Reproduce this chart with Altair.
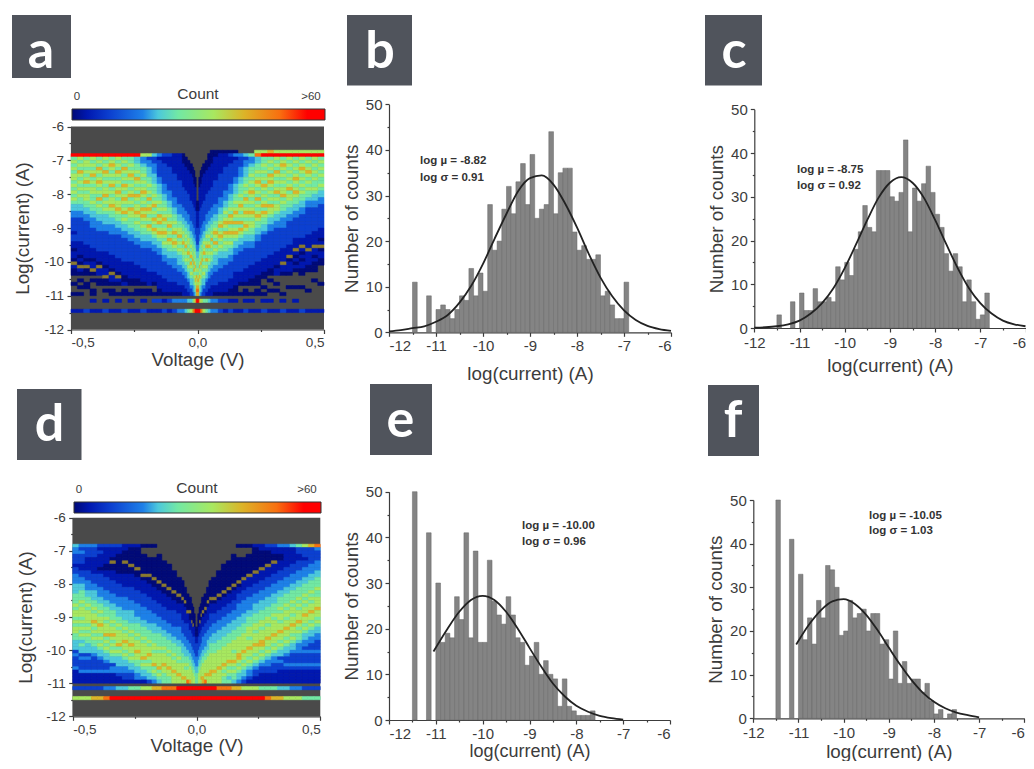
import altair as alt
import pandas as pd

W, H = 1018, 753
FONT = "Liberation Sans"
INK = "#3c3c3c"

LEVELS = list("0123456789a")
LEVEL_COLORS = ["#000a78", "#0018b0", "#0c40d0", "#1e80e8", "#4cc8dc",
                "#72e8a4", "#a8e860", "#dcb428", "#f87010", "#ff0000"]
SPECK_COLOR = "#8a7a30"
BAR_STOPS = [0, 0.06, 0.15, 0.28, 0.34, 0.42, 0.56, 0.68, 0.82, 0.93]
GREY = "#4a4a4a"

# half-column outer/inner edges of the maps, listed from |V|=0.5 to 0
V_EDGES = [0.5, 0.475, 0.45, 0.425, 0.4, 0.375, 0.35, 0.325, 0.3, 0.275, 0.25, 0.225,
           0.2, 0.18, 0.16, 0.14, 0.12, 0.1, 0.08, 0.06, 0.05, 0.04, 0.03, 0.02,
           0.015, 0.01, 0.005, 0.0]
ROW_TOP = -6.7
ROW_STEP = 0.1

A_LEFT = [
".9 5656566565 6565443322 2212211011 0a100..0.. 0 ....1",
".9 6565765656 5655443322 2222211110 10a10.0.0. 0 ....1",
".9 5665656756 5665544332 2222221111 01a00..00. . ....2",
".9 6565675656 6556554433 3222222111 011a0.0..0 0 .1..1",
".9 5657656765 6575655443 3322222211 10a11.00.. . ....1",
".9 6565765656 6756565444 3322222211 11011a00.0 . .1..2",
".9 5676565675 6566765544 3332222221 1110a110.0 0 ....1",
".9 6565765656 7656676554 4332222222 11110a10.. 0 .1..1",
".9 5657656576 5676567565 4433222222 21111001.0 0 ....2",
".9 5565676565 6756576655 5443322222 21111100.. 0 .1..1",
".9 4455657656 5765667656 5544332222 22111100.0 0 ....1",
".6 3345565656 7656576765 6554433222 22211110.0 0 .1..2",
".6 2334445565 6575676565 7654433222 22221111.0 0 ....1",
".4 2233344455 5656756576 5765443322 22221110.. 0 .2..1",
".3 1222223344 4556565767 5676544332 2222211110 0 .2..1",
".2 1122222233 3445565676 5676565443 3222221111 0 .1..2",
".2 1112222222 3334455656 7565765544 3322222111 0 .2..1",
".1 1111122222 2233344556 5675676544 3332222111 0 .3..2",
".1 1111111222 2222333445 5667565654 4433222211 0 .3..3",
".0 0011111112 2222233344 5565675665 5443322211 1 .3..3",
".. 0001111111 2222223334 4556567565 6544332221 1 .3..4",
".. .000111111 1222222333 4455665675 6565443222 1 .4..5",
".. ..00011111 1112222223 3344556567 5765654432 2 .4..6",
".. ...0001111 1111222222 3334455656 7565654433 2 .5..7",
".. ....000011 1111122222 2333445565 6757565544 3 .6..8",
".. ......0001 1111112222 2223344556 5676567655 4 .7..9",
".. .......... ...0001111 1222223344 5556576678 7 .9..9",
]
A_RIGHT = [
"69 5656565565 4433222222 211101a011 00.....0.. . ....1",
"69 6565656556 5443322222 221111a110 1000..0... . ....1",
"69 5656765656 5543322222 2221111a11 1100.....0 . ....1",
"69 6567656565 6554433222 222211a101 01100...0. . ....2",
"69 5656567656 7655443322 2222111a10 1010....0. . .1..1",
"69 6565656567 5665544332 222222111a 01110...0. . ....1",
"69 5676565656 6756554433 3222222111 1a110..... 0 .1..2",
"69 6565765656 7565665443 3222222211 11011..0.0 . ....1",
"79 5656576765 6565766544 3322222221 11100.0..0 . .1..1",
"69 5565656576 5656757655 4432222222 111100..0. 0 .1..2",
"68 4455656765 6575656765 5443322222 21111000.0 0 ....1",
".5 3345565656 7656567656 6554433222 22111100.. 0 .1..1",
".4 2334445565 6576567656 7654433222 22211110.0 0 .1..2",
".3 2223334455 5656765657 5765443322 22221110.. 0 ....1",
"03 1222223344 4556567657 5676544332 2222111100 0 .1..1",
"02 1122222233 3445565767 5676565443 3222221110 0 .1..2",
"01 1112222222 3334456567 6576565544 3322222111 0 .2..1",
"01 1111122222 2233344556 7567656544 3332222111 0 .2..2",
"00 1111111222 2222333445 5676575654 4433222211 0 .3..3",
"00 0011111112 2222233344 5565756565 5443322211 1 .3..3",
".0 0001111111 2222223334 4556567565 6544332221 1 .4..4",
".. .000111111 1222222333 4456567565 7565443222 1 .5..5",
".. ..00011111 1112222223 3344565675 6565654432 2 .5..6",
".. ...0001111 1111222222 3334456566 7565654433 2 .6..7",
".. ....000011 1111122222 2333445565 6756565544 3 .6..8",
".. ......0001 1111112222 2223344556 5675676655 4 .7..9",
".. .......... ...0001111 1222223344 5556567678 7 .9..9",
]
D_LEFT = [
".4 3322212233 3444555656 6565665544 4232223111 1 .2..6",
".3 2322211223 3445556566 6565656545 4423222311 1 .2..6",
".3 2221111222 3334455656 6665656554 4423222311 1 .2..6",
".3 2221111122 2334445565 6676565655 4432222311 1 .2..7",
".2 1211110122 2233344556 5667665656 5443222311 1 .2..7",
".2 1111100112 2223334455 5656667565 6544322311 1 .3..8",
".2 1110a00111 2222333445 5565667656 5654423311 1 .3..9",
".2 1100000011 1222233344 4556566667 5654443321 1 .4..9",
".1 1000a00011 1122233334 4455656676 6565443322 1 .4..9",
".1 00000a0011 1122223334 4445565667 6656544322 1 .5..9",
".1 000000a001 1112222333 3445556566 6766554433 1 .5..9",
".0 ..000000a0 1111222233 3344555656 6667565443 1 .6..9",
".0 ...00000a0 0111122223 3334455565 6676565544 2 .6..9",
".0 ...000000a 0011112222 3334445556 6566675654 3 .7..9",
".. ..00000000 a001111222 2333445555 6566667565 4 .7..9",
".. ....000000 0a00111122 2233344555 6566676655 5 .8..9",
".. .....00000 00a0011112 2223334455 5656667665 5 .8..9",
".. .......000 000a001112 2222333445 5565666766 6 .8..9",
".. .........0 0000a00111 2222333344 5556566676 6 .9..9",
".. .......... 00000a0111 1122223334 4455566667 6 .9..9",
".. .......... ..0000a011 1112222333 4445565667 6 .9..9",
".. .......... ....00000a 1112222233 3445565666 8 .9..9",
".. .......... .....0000a 0011122223 3344556666 7 .9..9",
".. .......... .......000 00a1112222 3334455666 6 .9..9",
".. .......... ........00 000a111222 2333445566 6 .9..9",
".. .......... .......... 0000111222 2233344556 6 .9..9",
".. .......... .......... ....000112 2223334455 5 .9..9",
]
D_RIGHT = [
".8 3222333445 5565566676 6565443322 2322232111 1 .2..5",
".7 2222233344 5556565667 6656544332 2322232111 1 .2..5",
".6 2221223334 4555656566 7665654433 2322232111 1 .2..5",
".5 2211222333 4455565656 6676565543 3322232111 1 .3..6",
".4 1111122233 3445556566 5667665654 4322232111 1 .3..6",
".3 1111112223 3344555656 6566766565 4432232111 1 .4..6",
".3 1100111222 3334455565 6656676656 5442322111 1 .4..7",
".2 1100a11122 2333444555 6566667665 6543322211 1 .5..7",
".2 10000a1112 2233344455 5665666766 5654332211 1 .5..8",
".1 100000a111 2223334445 5566566677 6565432211 1 .5..9",
".1 0000000a11 1222333444 5556656667 6656543221 1 .6..9",
".0 ..000000a1 1122233334 4555666566 7665654332 1 .6..9",
".0 ...000000a 1112223333 4445556666 6766565443 2 .6..9",
".0 ...0000000 a011222333 3444555666 6677656544 3 .7..9",
".. ..00000000 0a01112223 3344455566 6566765655 4 .7..9",
".. ....000000 00a0111222 3334445556 6666765654 5 .8..9",
".. .....00000 000a011122 2333444555 6666676565 5 .8..9",
".. .......000 0000a01112 2233344455 5666667666 6 .8..9",
".. .........0 00000a0111 2223334445 5566666766 6 .9..9",
".. .......... 00000a0111 2222333445 5566666776 6 .9..9",
".. .......... ..0000a011 1122233344 4556666676 6 .9..9",
".. .......... ....0000a0 1112223333 4455666676 8 .9..9",
".. .......... .....0000a 0111222333 3445566667 7 .9..9",
".. .......... .......000 a011122223 3344556667 6 .9..9",
".. .......... ........00 00a1112222 3334455666 6 .9..9",
".. .......... .......... 0000111222 2333445566 6 .9..9",
".. .......... .......... ....000112 2223334455 5 .9..9",
]

BINS = [-11.45, -11.15, -10.95, -10.85, -10.75, -10.65, -10.55, -10.45, -10.35, -10.25, -10.15,
        -10.05, -9.95, -9.85, -9.75, -9.65, -9.55, -9.45, -9.35, -9.25, -9.15, -9.05, -8.95,
        -8.85, -8.75, -8.65, -8.55, -8.45, -8.35, -8.25, -8.15, -8.05, -7.95, -7.85, -7.75,
        -7.65, -7.55, -7.45, -7.35, -7.25, -7.15, -7.05, -6.95, -6.85]

B_COUNTS = [11, 8, 5, 6, 5, 3, 5, 8, 7, 14, 8, 13, 9, 28, 18, 20, 27, 32, 26, 33, 37, 28, 39,
            25, 27, 28, 44, 26, 35, 36, 36, 22, 18, 19, 16, 16, 17, 8, 9, 6, 3, 3, 11, 0]
C_COUNTS = [3, 6, 8, 4, 4, 9, 6, 6, 7, 6, 14, 11, 15, 12, 18, 22, 28, 23, 22, 36, 36, 36, 30,
            29, 31, 43, 22, 32, 29, 33, 37, 31, 26, 23, 17, 13, 17, 14, 6, 11, 6, 2, 3, 8]
E_COUNTS = [50, 41, 30, 17, 19, 18, 27, 22, 41, 18, 37, 17, 17, 35, 26, 23, 21, 27, 23, 18, 17,
            12, 14, 17, 10, 13, 10, 9, 3, 9, 3, 2, 1, 1, 1, 2, 0, 0, 0, 0, 0, 0, 0, 0]
F_COUNTS = [50, 41, 33, 18, 23, 17, 27, 23, 35, 34, 30, 19, 20, 27, 23, 24, 25, 20, 24, 24, 17,
            18, 9, 20, 8, 13, 8, 9, 9, 6, 8, 4, 1, 2, 0, 1, 2, 0, 0, 0, 0, 0, 0, 0]

FIT_X_FULL = [-12, -11.75, -11.5, -11.25, -11, -10.75, -10.5, -10.25, -10, -9.75, -9.5, -9.25, -9,
              -8.75, -8.5, -8.25, -8, -7.75, -7.5, -7.25, -7, -6.75, -6.5, -6.25, -6]
B_FIT = [0.2, 0.5, 0.9, 1.3, 2.3, 3.8, 6.5, 10.2, 15, 20.6, 26, 31, 33.8,
         34.4, 32.4, 28.2, 23, 17.2, 12, 7.9, 4.8, 2.7, 1.4, 0.7, 0.3]
C_FIT = [0.07, 0.17, 0.4, 0.85, 1.7, 3.3, 5.7, 9.1, 13.7, 19.1, 24.7, 29.8, 33.2,
         34.5, 33.2, 29.8, 24.7, 19.1, 13.7, 9.1, 5.7, 3.3, 1.7, 0.85, 0.4]
FIT_X_E = [-11.05, -10.75, -10.5, -10.25, -10, -9.75, -9.5, -9.25, -9, -8.75, -8.5, -8.25, -8,
           -7.75, -7.5, -7.25, -7]
E_FIT = [15, 20, 23.7, 26.3, 27.2, 26.3, 23.7, 20, 15.8, 11.7, 8, 5.2, 3.1, 1.8, 0.9, 0.4, 0.1]
F_FIT = [16.9, 21.7, 24.8, 26.8, 27.3, 26.2, 23.7, 20.2, 16.2, 12.3, 8.8, 5.9, 3.8, 2.3, 1.3, 0.7, 0.2]

# page pixel boxes (left, right, top, bottom) of each panel
BOX = {
    "a": (71, 324, 126.5, 329.5),
    "b": (389, 671, 104.3, 332.3),
    "c": (754.3, 1025.5, 109.3, 328),
    "d": (72.7, 320.3, 517.7, 716.3),
    "e": (389, 670, 491.7, 720),
    "f": (753.3, 1024.3, 500, 718.3),
}
# letter, box left, right, top, bottom, letter centre x, baseline y
BADGES = [("a", 12, 71, 15, 78, 41, 68), ("b", 347, 412, 15, 85.5, 380, 68),
          ("c", 705, 762, 15, 85.5, 734, 68), ("d", 17, 81.5, 389, 460, 49.5, 441),
          ("e", 370, 432, 384, 455, 400.5, 437), ("f", 708, 759, 385, 456, 733, 437)]
STATS = [("log µ = -8.82", 420, 161), ("log σ = 0.91", 420, 178),
         ("log µ = -8.75", 797, 170), ("log σ = 0.92", 797, 186),
         ("log µ = -10.00", 522, 526), ("log σ = 0.96", 522, 542),
         ("log µ = -10.05", 869, 516), ("log σ = 1.03", 869, 531)]
COLORBARS = [(72, 325, 109, 120, 77, 198, 311, 97, 94), (74, 321, 502, 513, 79, 197, 307, 490, 488)]
HEAT_LABELS = "replace(replace(format(datum.value,'.1f'),'.',','),'\u2212','-')"
PLAIN_LABELS = "replace(format(datum.value,'d'),'\u2212','-')"
# the last label of panels c and f sits against the right edge of the page
EDGE_ALIGN = {"condition": {"test": "datum.value === -6", "value": "right"}, "value": "center"}


def px(v):
    return v - 8


def axis(orient, offset, title, values, **kw):
    base = dict(orient=orient, offset=offset, title=title, values=values, grid=False,
                domainColor=INK, tickColor=INK, labelColor=INK, titleColor=INK,
                labelFont=FONT, titleFont=FONT, titleFontWeight="normal",
                tickSize=4, domainWidth=1.2, tickWidth=1.2, labelPadding=2)
    base.update(kw)
    return alt.Axis(**base)


def scales(box, xdom, ydom):
    l, r, t, b = box
    return (alt.Scale(domain=xdom, range=[px(l), px(r)], nice=False, zero=False),
            alt.Scale(domain=ydom, range=[px(b), px(t)], nice=False, zero=False))


def minor_layer(box, xdom, ydom, xvals, yvals):
    l, r, t, b = box
    xs, ys = scales(box, xdom, ydom)
    df = pd.DataFrame({"x": [xdom[0]], "y": [ydom[0]]})
    return alt.Chart(df).mark_point(opacity=0).encode(
        x=alt.X("x:Q", scale=xs, axis=axis("bottom", -(H - px(b)), None, xvals, labels=False,
                                           domain=False, tickSize=2)),
        y=alt.Y("y:Q", scale=ys, axis=axis("left", -px(l), None, yvals, labels=False,
                                           domain=False, tickSize=2)),
    )


def heat_layers(box, left, right, ytitle_pad):
    xdom, ydom = [-0.5, 0.5], [-12, -6]
    l, r, t, b = box
    xs, ys = scales(box, xdom, ydom)
    bg = pd.DataFrame({"x": [-0.5], "x2": [0.5], "y": [-12], "y2": [-6]})
    layers = [alt.Chart(bg).mark_rect(color=GREY).encode(
        x=alt.X("x:Q", scale=xs, axis=axis(
            "bottom", -(H - px(b)), "Voltage (V)", [-0.5, 0, 0.5], labelFontSize=13.5, titleFontSize=18.8,
            titlePadding=1, labelExpr=HEAT_LABELS)),
        x2="x2:Q",
        y=alt.Y("y:Q", scale=ys, axis=axis(
            "left", -px(l), "Log(current) (A)", [-6, -7, -8, -9, -10, -11, -12], labelFontSize=13.5,
            titleFontSize=18.8, titlePadding=ytitle_pad, labelPadding=3.5, labelExpr=PLAIN_LABELS)),
        y2="y2:Q")]
    rows = []
    for side, cols in ((-1, left), (1, right)):
        for i, col in enumerate(cols):
            col = col.replace(" ", "")
            v0, v1 = V_EDGES[i], V_EDGES[i + 1]
            for k, ch in enumerate(col):
                if ch == ".":
                    continue
                rows.append({"x": side * v0, "x2": side * v1,
                             "y": ROW_TOP - ROW_STEP * k, "y2": ROW_TOP - ROW_STEP * (k + 1), "lev": ch})
    cs = alt.Scale(domain=LEVELS, range=LEVEL_COLORS + [SPECK_COLOR])
    layers.append(alt.Chart(pd.DataFrame(rows)).mark_rect(strokeWidth=0.5).encode(
        x=alt.X("x:Q", scale=xs, axis=None), x2="x2:Q",
        y=alt.Y("y:Q", scale=ys, axis=None), y2="y2:Q",
        color=alt.Color("lev:N", scale=cs, legend=None),
        stroke=alt.Stroke("lev:N", scale=cs, legend=None)))
    layers.append(minor_layer(box, xdom, ydom, [-0.25, 0.25],
                              [-6.5, -7.5, -8.5, -9.5, -10.5, -11.5]))
    return layers


def hist_layers(box, counts, fit_x, fit_y, xtitle_pad, edge=False, title_size=18.8):
    xdom, ydom = [-12, -6], [0, 50]
    l, r, t, b = box
    xs, ys = scales(box, xdom, ydom)
    df = pd.DataFrame({"c": BINS, "n": counts})
    df = df[df.n > 0]
    df = df.assign(x=df.c - 0.05, x2=df.c + 0.05, y0=0)
    fit = pd.DataFrame({"x": fit_x, "y": fit_y})
    extra = {"labelAlign": EDGE_ALIGN, "labelPadding": 3.5} if edge else {}
    bars = alt.Chart(df).mark_rect(color="#848484", stroke="#666666", strokeWidth=0.5).encode(
        x=alt.X("x:Q", scale=xs, axis=axis(
            "bottom", -(H - px(b)), "log(current) (A)", [-12, -11, -10, -9, -8, -7, -6],
            labelFontSize=15, titleFontSize=title_size, titlePadding=xtitle_pad,
            labelExpr=PLAIN_LABELS, **extra)),
        x2="x2:Q",
        y=alt.Y("n:Q", scale=ys, axis=axis(
            "left", -px(l), "Number of counts", [0, 10, 20, 30, 40, 50],
            labelFontSize=15, titleFontSize=18.8, titlePadding=4, labelPadding=3)),
        y2="y0:Q")
    line = alt.Chart(fit).mark_line(color="#222222", strokeWidth=1.8, interpolate="monotone").encode(
        x=alt.X("x:Q", scale=xs, axis=None), y=alt.Y("y:Q", scale=ys, axis=None))
    minor = minor_layer(box, xdom, ydom, [-11.5, -10.5, -9.5, -8.5, -7.5, -6.5],
                        [5, 15, 25, 35, 45])
    return [bars, line, minor]


def label(text, x, y, size, color=INK, weight="normal", font=FONT, align="left", baseline="middle"):
    df = pd.DataFrame({"t": [text]})
    return alt.Chart(df).mark_text(font=font, fontSize=size, fontWeight=weight, color=color,
                                   align=align, baseline=baseline).encode(
        text="t:N", x=alt.value(px(x)), y=alt.value(px(y)))


layers = []
layers += heat_layers(BOX["a"], A_LEFT, A_RIGHT, 11)
layers += heat_layers(BOX["d"], D_LEFT, D_RIGHT, 10)
layers += hist_layers(BOX["b"], B_COUNTS, FIT_X_FULL, B_FIT, 11)
layers += hist_layers(BOX["c"], C_COUNTS, FIT_X_FULL, C_FIT, 5.5, edge=True)
layers += hist_layers(BOX["e"], E_COUNTS, FIT_X_E, E_FIT, 1, title_size=18)
layers += hist_layers(BOX["f"], F_COUNTS, FIT_X_E, F_FIT, 1.5, edge=True)

grad = alt.Gradient(gradient="linear", x1=0, x2=1, y1=0, y2=0,
                    stops=[alt.GradientStop(offset=o, color=c) for o, c in zip(BAR_STOPS, LEVEL_COLORS)]
                    + [alt.GradientStop(offset=1, color=LEVEL_COLORS[-1])])
one = pd.DataFrame({"k": [0]})
for x0, x1, y0, y1, lx, cx, gx, ly, cy in COLORBARS:
    layers.append(alt.Chart(one).mark_rect(color=grad, stroke="#333333", strokeWidth=1).encode(
        x=alt.value(px(x0)), x2=alt.value(px(x1)), y=alt.value(px(y0)), y2=alt.value(px(y1))))
    layers.append(label("0", lx, ly, 11.5, align="center"))
    layers.append(label("Count", cx, cy, 15.5, align="center"))
    layers.append(label(">60", gx, ly, 11.5, align="center"))

for t, x0, x1, y0, y1, cx, base in BADGES:
    layers.append(alt.Chart(one).mark_rect(color="#50545c").encode(
        x=alt.value(px(x0)), x2=alt.value(px(x1)), y=alt.value(px(y0)), y2=alt.value(px(y1))))
    layers.append(label(t, cx, base, 52, color="white", weight="bold",
                        font="Lato", align="center", baseline="alphabetic"))

for t, x, y in STATS:
    layers.append(label(t, x, y, 11.5, color="#333333", weight="bold"))

chart = alt.layer(*layers).resolve_scale(
    x="independent", y="independent", color="independent", stroke="independent"
).properties(width=W, height=H, padding=0, autosize=alt.AutoSizeParams(type="none"),
             background="white").configure_view(stroke=None)

chart.save("out.html", embed_options={"renderer": "svg", "actions": False})
